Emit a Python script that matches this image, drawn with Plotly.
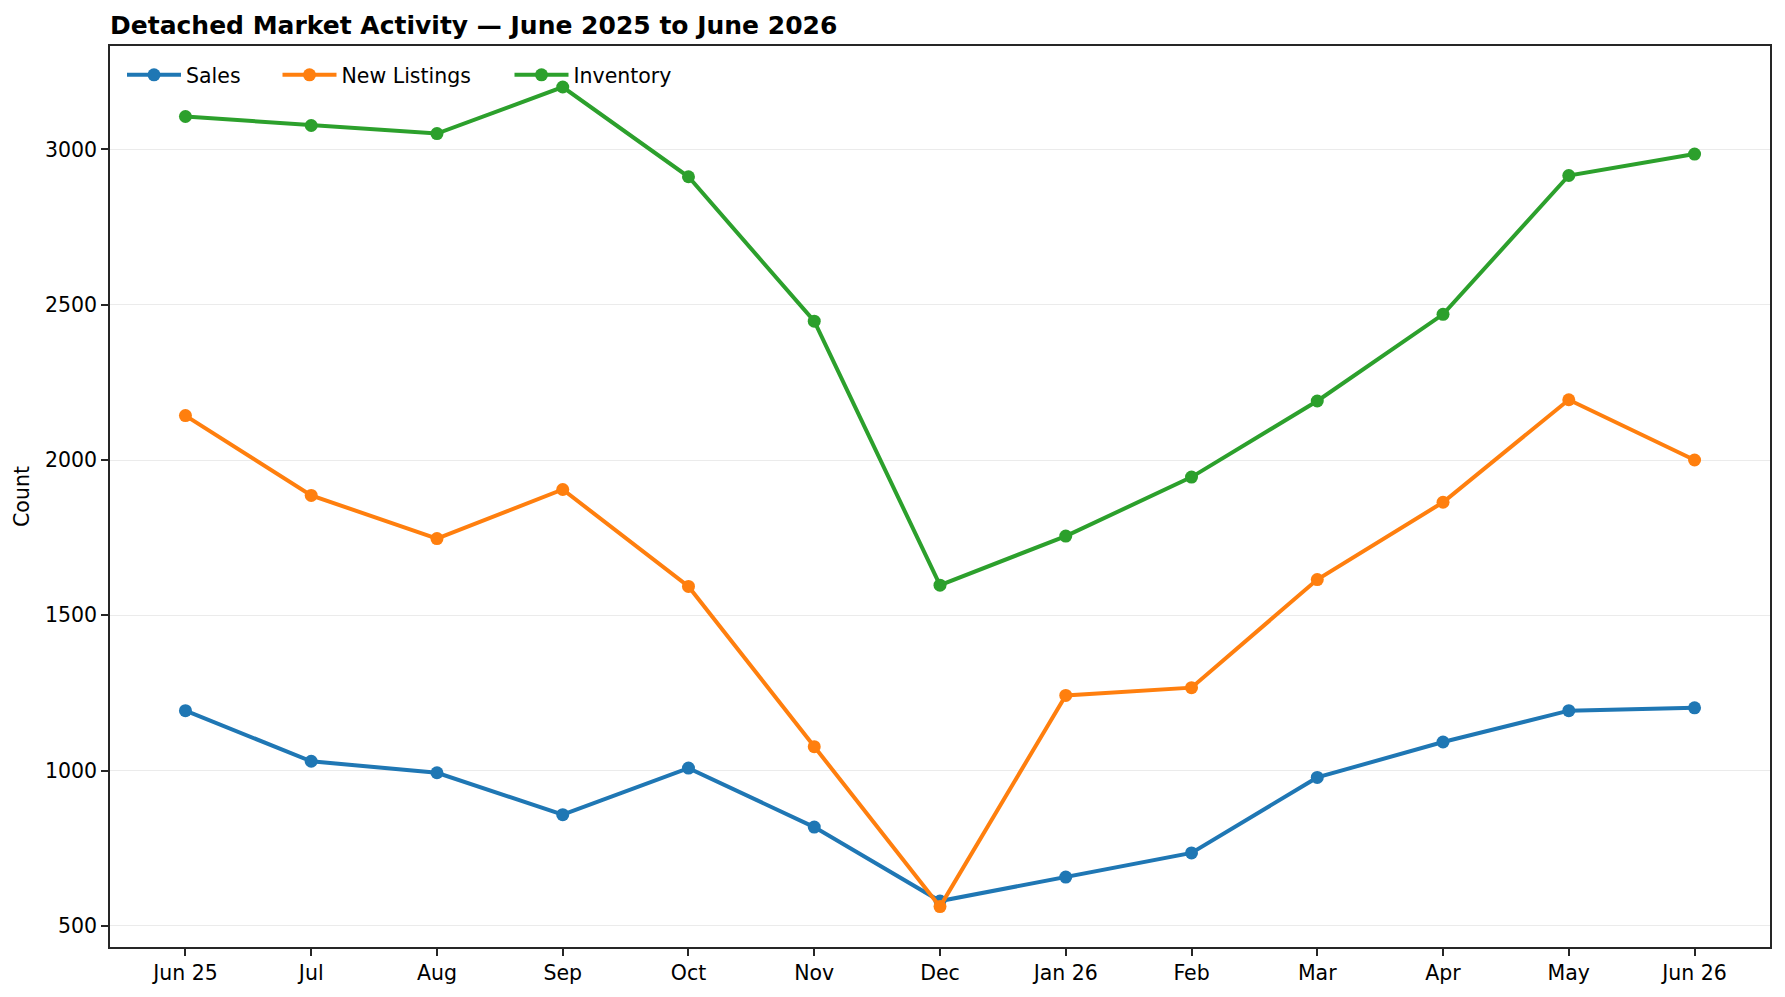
import plotly.graph_objects as go

months = ["Jun 25", "Jul", "Aug", "Sep", "Oct", "Nov", "Dec", "Jan 26", "Feb", "Mar", "Apr", "May", "Jun 26"]
sales = [1193, 1030, 993, 858, 1008, 818, 580, 657, 735, 978, 1092, 1193, 1202]
new_listings = [2143, 1886, 1747, 1905, 1593, 1077, 562, 1242, 1267, 1615, 1864, 2194, 2000]
inventory = [3106, 3077, 3051, 3201, 2912, 2447, 1597, 1755, 1945, 2190, 2469, 2916, 2985]

series = [("Sales", sales, "#1f77b4"), ("New Listings", new_listings, "#ff7f0e"), ("Inventory", inventory, "#2ca02c")]

W, H = 1777, 989  # page has 8px body margin
ML, MR, MT, MB = 102, 15, 38, 50
PW, PH = W - ML - MR, H - MT - MB
legend_x = [114, 269.5, 501.5]  # container px

x = list(range(len(months)))
fig = go.Figure()
for i, (name, vals, col) in enumerate(series):
    fig.add_trace(go.Scatter(x=x, y=vals, name=name, mode="lines+markers",
                             line=dict(color=col, width=4),
                             marker=dict(color=col, size=13),
                             legend="legend" if i == 0 else f"legend{i+1}"))

font = "DejaVu Sans"
leg_common = dict(xref="paper", yref="paper", xanchor="left", yanchor="middle",
                  y=1 - (67 - MT)/PH, bgcolor="rgba(0,0,0,0)", itemwidth=54,
                  font=dict(size=20.5, family=font))
fig.update_layout(
    width=W, height=H,
    margin=dict(l=ML, r=MR, t=MT, b=MB, autoexpand=False),
    paper_bgcolor="white", plot_bgcolor="white",
    font=dict(family=font, size=20.5, color="black"),
    title=dict(text="<b>Detached Market Activity — June 2025 to June 2026</b>",
               xref="container", yref="container",
               x=ML/W, xanchor="left", y=1-17/H, yanchor="middle",
               font=dict(size=25, family=font)),
    legend=dict(x=(legend_x[0]-ML)/PW, **leg_common),
    legend2=dict(x=(legend_x[1]-ML)/PW, **leg_common),
    legend3=dict(x=(legend_x[2]-ML)/PW, **leg_common),
    showlegend=True,
)
fig.update_xaxes(range=[-0.6, 12.6], tickmode="array", tickvals=x, ticktext=months,
                 showgrid=False, zeroline=False, showline=True, linecolor="#262626", linewidth=1.6,
                 mirror=True, ticks="outside", ticklen=7, tickcolor="#262626", tickwidth=1.6,
                 tickfont=dict(size=20.5))
fig.update_yaxes(range=[432, 3333], tickvals=[500, 1000, 1500, 2000, 2500, 3000],
                 showgrid=True, gridcolor="#ebebeb", gridwidth=1.3, zeroline=False,
                 showline=True, linecolor="#262626", linewidth=1.6, mirror=True,
                 ticks="outside", ticklen=7, tickcolor="#262626", tickwidth=1.6,
                 title=dict(text="Count", font=dict(size=20.5), standoff=10),
                 tickfont=dict(size=20.5))
fig.write_html("out.html")
